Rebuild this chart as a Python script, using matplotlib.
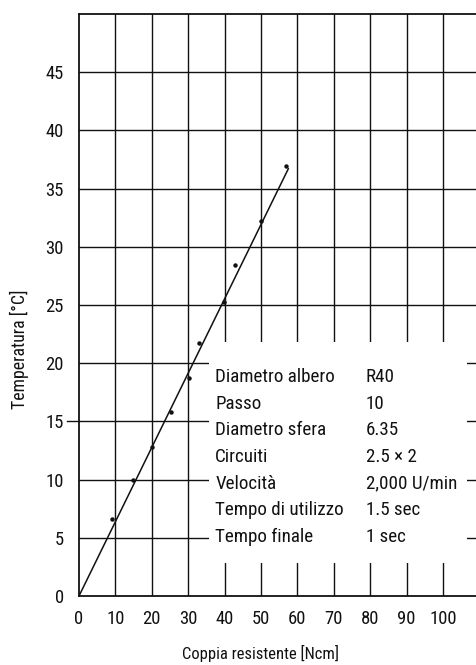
import matplotlib
matplotlib.use("Agg")
import matplotlib.pyplot as plt
from matplotlib import font_manager
from matplotlib.patches import Rectangle

# Measured data: resisting torque vs. temperature
torque = [9.0, 14.9, 20.0, 25.2, 30.1, 33.0, 39.8, 42.8, 50.0, 56.9]
temperature = [6.6, 10.0, 12.8, 15.8, 18.7, 21.7, 25.3, 28.4, 32.2, 36.9]

# Fitted trend line end points
fit_x = [0.0, 57.5]
fit_y = [0.0, 36.7]

x_ticks = [0, 10, 20, 30, 40, 50, 60, 70, 80, 90, 100]
y_ticks = [0, 5, 10, 15, 20, 25, 30, 35, 40, 45]

# Test conditions
cond_labels = ["Diametro albero", "Passo", "Diametro sfera", "Circuiti",
               "Velocità", "Tempo di utilizzo", "Tempo finale"]
cond_values = ["R40", "10", "6.35", "2.5 × 2", "2,000 U/min", "1.5 sec", "1 sec"]


def pick_narrow_font():
    """Return the file of an installed condensed sans face, if any."""
    found = []
    for f in font_manager.fontManager.ttflist:
        st = f.stretch
        if isinstance(st, str):
            st = font_manager.stretch_dict.get(st, 500)
        text = (f.name + " " + f.fname).lower()
        narrow = st <= 400 or "condensed" in text or "narrow" in text
        if not narrow or "mono" in text or "serif" in text:
            continue
        w = f.weight
        if isinstance(w, str):
            w = font_manager.weight_dict.get(w, 400)
        if w != 400 or f.style != "normal":
            continue
        found.append(f)
    order = ["roboto", "liberation", "noto sans", "open sans", "dejavu"]
    for key in order:
        for f in found:
            if key in (f.name + " " + f.fname).lower():
                return f.fname
    return found[0].fname if found else None


narrow_file = pick_narrow_font()


def fp(size):
    if narrow_file:
        return font_manager.FontProperties(fname=narrow_file, size=size)
    return font_manager.FontProperties(family="Roboto", size=size)


W, H = 477, 665
fig = plt.figure(figsize=(W / 100, H / 100), dpi=100)
left_px, right_px, top_px, bottom_px = 79, 477, 14, 596
ax = fig.add_axes([left_px / W, 1 - bottom_px / H,
                   (right_px - left_px) / W, (bottom_px - top_px) / H])

x_max = (right_px - left_px) / 3.64
ax.set_xlim(0, x_max)
ax.set_ylim(0, 50)

ax.set_xticks(x_ticks)
ax.set_yticks(y_ticks)
ax.tick_params(length=0, colors="#111111")
ax.tick_params(axis="x", pad=10)
ax.tick_params(axis="y", pad=11)

for xv in x_ticks[1:]:
    ax.axvline(xv, color="#111111", lw=1.0, zorder=1)
for yv in y_ticks[1:]:
    ax.axhline(yv, color="#111111", lw=1.0, zorder=1)

ax.spines["right"].set_visible(False)
for s in ("left", "top", "bottom"):
    ax.spines[s].set_linewidth(1.3)
    ax.spines[s].set_color("#111111")

# short stub of the 15 line reaching past the axis
ax.plot([-3.4, 0], [15, 15], color="#111111", lw=1.0, clip_on=False, zorder=1)

# white panel holding the test conditions
ax.add_patch(Rectangle((35.8, 2.8), 70.7, 19.05, facecolor="white",
                       edgecolor="none", zorder=2))

ax.plot(fit_x, fit_y, color="#111111", lw=1.1, zorder=3)
ax.plot(torque, temperature, "o", color="#111111", markersize=2.2, zorder=4)

base_y = 18.36
step = 2.283
table_texts = []
for i, (lab, val) in enumerate(zip(cond_labels, cond_values)):
    yy = base_y - i * step
    for xx, s in ((37.4, lab), (78.8, val)):
        t = ax.text(xx, yy, s, fontproperties=fp(14), va="baseline",
                    ha="left", color="#111111", zorder=5)
        table_texts.append(t)

xlab = ax.text(50, -4.9, "Coppia resistente [Ncm]", fontproperties=fp(12),
               ha="center", va="center", color="#111111")
ylab = ax.text(-16.3, 21.2, "Temperatura [°C]", fontproperties=fp(12),
               ha="center", va="center", rotation=90, color="#111111")

tick_labels = ax.get_xticklabels() + ax.get_yticklabels()
for lab in tick_labels:
    lab.set_fontproperties(fp(13))


# fit the type sizes to the available widths
fig.canvas.draw()
renderer = fig.canvas.get_renderer()


def width_of(t):
    return t.get_window_extent(renderer).width


def height_of(t):
    return t.get_window_extent(renderer).height


k = 113.0 / width_of(table_texts[0]) * 1.07
for t in table_texts:
    t.set_fontsize(14 * k)
xlab.set_fontsize(12 * 142.0 / width_of(xlab) * 1.1)
ylab.set_fontsize(12 * 108.0 / height_of(ylab) * 1.1)

ref = [lab for lab in ax.get_xticklabels() if lab.get_text() == "100"]
tick_k = 25.0 / width_of(ref[0]) * 1.1 if ref else 1.0
for lab in ax.get_xticklabels() + ax.get_yticklabels():
    lab.set_fontproperties(fp(13 * tick_k))

fig.savefig("out.png", dpi=100)
